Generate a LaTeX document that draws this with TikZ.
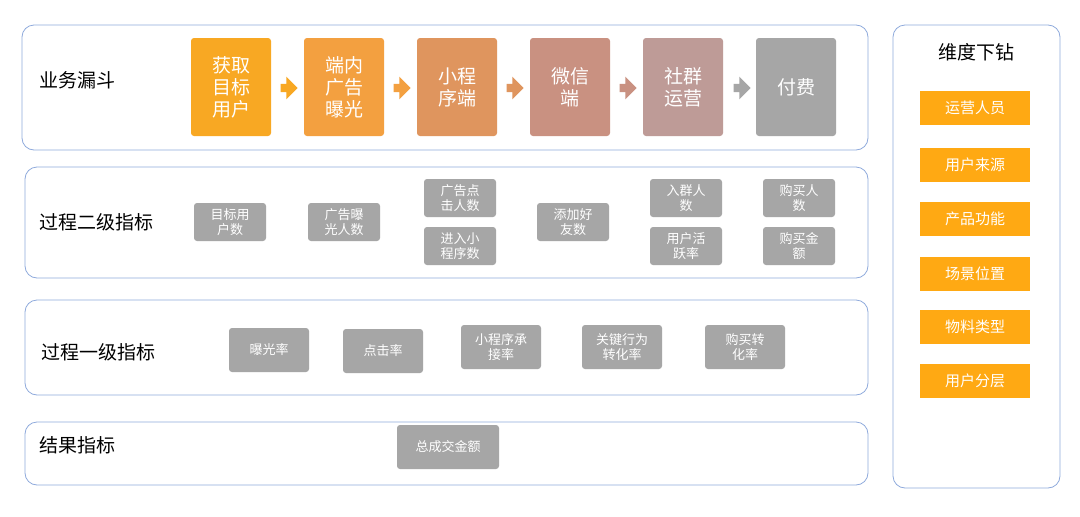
\documentclass[tikz,border=0pt]{standalone}
\usepackage{fontspec}
\setmainfont{Noto Sans CJK SC}
\usetikzlibrary{shapes.arrows}
\definecolor{panelline}{HTML}{8FAADC}
\definecolor{boxgray}{HTML}{A6A6A6}
\definecolor{dimorange}{HTML}{FFA913}
\definecolor{fA}{HTML}{F8A823}
\definecolor{fB}{HTML}{F3A040}
\definecolor{fC}{HTML}{DF955E}
\definecolor{fD}{HTML}{C99181}
\definecolor{fE}{HTML}{BE9B97}
\definecolor{fF}{HTML}{A6A6A6}

\begin{document}
\begin{tikzpicture}[x=1pt,y=-1pt]

\tikzset{Panel/.style={draw=panelline,rounded corners=12pt,line width=0.8pt},
         PanelTitle/.style={anchor=west,font=\fontsize{19}{22}\selectfont},
         FunnelBox/.style={rectangle,rounded corners=3pt,minimum width=80pt,minimum height=98pt,
                           text=white,align=center,font=\fontsize{19}{22}\selectfont},
         SmallBox/.style={rectangle,rounded corners=3pt,fill=boxgray,text=white,align=center,
                          minimum width=72pt,minimum height=38pt,inner sep=1pt,font=\fontsize{13}{15}\selectfont},
         WideBox/.style={SmallBox,minimum width=80pt,minimum height=44pt},
         DimBox/.style={rectangle,fill=dimorange,text=white,minimum width=110pt,minimum height=34pt,
                        font=\fontsize{15}{18}\selectfont},
         FlowArrow/.style={single arrow,inner sep=0pt,text width=8pt,text height=8pt,text depth=0pt,
                           minimum width=16pt,minimum height=17pt}}

\path[fill=white] (0,0) rectangle (1080,517);

% Panels
\draw[Panel] (22,25) rectangle (868,150);
\draw[Panel] (25,167) rectangle (868,278);
\draw[Panel] (25,300) rectangle (868,395);
\draw[Panel] (25,422) rectangle (868,485);
\draw[Panel] (893,25) rectangle (1060,488);

\node[PanelTitle] (T1) at (36,80) {业务漏斗};
\node[PanelTitle] (T2) at (36,222) {过程二级指标};
\node[PanelTitle] (T3) at (38,352) {过程一级指标};
\node[PanelTitle] (T4) at (36,445) {结果指标};

% Funnel
\node[FunnelBox,fill=fA] (F1) at (231,87) {获取\\目标\\用户};
\node[FunnelBox,fill=fB] (F2) at (344,87) {端内\\广告\\曝光};
\node[FunnelBox,fill=fC] (F3) at (457,87) {小程\\序端};
\node[FunnelBox,fill=fD] (F4) at (570,87) {微信\\端};
\node[FunnelBox,fill=fE] (F5) at (683,87) {社群\\运营};
\node[FunnelBox,fill=fF] (F6) at (796,87) {付费};

\node[FlowArrow,fill=fA] (A1) at (287,88) {};
\node[FlowArrow,fill=fB] (A2) at (400,88) {};
\node[FlowArrow,fill=fC] (A3) at (513,88) {};
\node[FlowArrow,fill=fD] (A4) at (626,88) {};
\node[FlowArrow,fill=boxgray] (A5) at (740,88) {};

% Second level
\node[SmallBox] (S1) at (230,222) {目标用\\户数};
\node[SmallBox] (S2) at (344,222) {广告曝\\光人数};
\node[SmallBox] (S3) at (460,198) {广告点\\击人数};
\node[SmallBox] (S4) at (460,246) {进入小\\程序数};
\node[SmallBox] (S5) at (573,222) {添加好\\友数};
\node[SmallBox] (S6) at (686,198) {入群人\\数};
\node[SmallBox] (S7) at (686,246) {用户活\\跃率};
\node[SmallBox] (S8) at (799,198) {购买人\\数};
\node[SmallBox] (S9) at (799,246) {购买金\\额};

% First level
\node[WideBox] (P1) at (269,350) {曝光率};
\node[WideBox] (P2) at (383,351) {点击率};
\node[WideBox] (P3) at (501,347) {小程序承\\接率};
\node[WideBox] (P4) at (622,347) {关键行为\\转化率};
\node[WideBox] (P5) at (745,347) {购买转\\化率};

% Result
\node[WideBox,minimum width=102pt] (R1) at (448,447) {总成交金额};

% Dimensions
\node[font=\fontsize{19}{22}\selectfont] (D0) at (976,52) {维度下钻};
\node[DimBox] (D1) at (975,108) {运营人员};
\node[DimBox] (D2) at (975,165) {用户来源};
\node[DimBox] (D3) at (975,219) {产品功能};
\node[DimBox] (D4) at (975,274) {场景位置};
\node[DimBox] (D5) at (975,327) {物料类型};
\node[DimBox] (D6) at (975,381) {用户分层};

\end{tikzpicture}
\end{document}
